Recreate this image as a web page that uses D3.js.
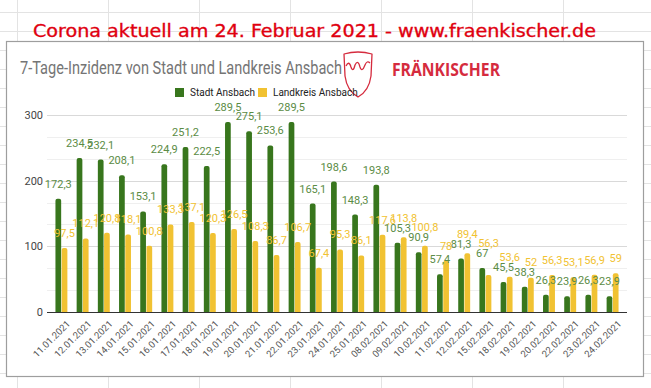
<!DOCTYPE html>
<html>
<head>
<meta charset="utf-8">
<script src="https://cdn.jsdelivr.net/npm/d3@7"></script>
<style>
  body { margin: 0; background: #fff; }
  svg { display: block; }
</style>
</head>
<body>
<div id="chart"></div>
<script>
// values as shown in the data labels
const dates = ["11.01.2021", "12.01.2021", "13.01.2021", "14.01.2021", "15.01.2021", "16.01.2021",
  "17.01.2021", "18.01.2021", "19.01.2021", "20.01.2021", "21.01.2021", "22.01.2021", "23.01.2021",
  "24.01.2021", "25.01.2021", "08.02.2021", "09.02.2021", "10.02.2021", "11.02.2021", "12.02.2021",
  "15.02.2021", "18.02.2021", "19.02.2021", "20.02.2021", "22.02.2021", "23.02.2021", "24.02.2021"];
const stadt = [172.3, 234.5, 232.1, 208.1, 153.1, 224.9, 251.2, 222.5, 289.5, 275.1, 253.6, 289.5, 165.1,
  198.6, 148.3, 193.8, 105.3, 90.9, 57.4, 81.3, 67, 45.5, 38.3, 26.3, 23.9, 26.3, 23.9];
const landkreis = [97.5, 112.1, 120.8, 118.1, 100.8, 133.3, 137.1, 120.3, 126.5, 108.3, 86.7, 106.7, 67.4,
  95.3, 86.1, 117.6, 113.8, 100.8, 78, 89.4, 56.3, 53.6, 52, 56.3, 53.1, 56.9, 59];
const seriesNames = ["Stadt Ansbach", "Landkreis Ansbach"];
const yTicks = [0, 100, 200, 300];

const W = 651, H = 388;
const colors = ["#38761d", "#f1c232"];
const labelColors = ["#5b8c45", "#f1c232"];

const svg = d3.select("#chart").append("svg").attr("width", W).attr("height", H);

// spreadsheet grid behind everything
const sheet = svg.append("g").attr("stroke", "#e3e3e3").attr("stroke-width", 1);
d3.range(12, H, 19).forEach(y => sheet.append("line").attr("x1", 0).attr("x2", W).attr("y1", y + 0.5).attr("y2", y + 0.5));
d3.range(17, W, 91).forEach(x => sheet.append("line").attr("x1", x + 0.5).attr("x2", x + 0.5).attr("y1", 0).attr("y2", H));

// big red headline
svg.append("text")
  .attr("x", 33).attr("y", 37)
  .attr("font-family", "DejaVu Sans Condensed, DejaVu Sans")
  .attr("font-size", 17)
  .attr("fill", "#e0000f")
  .attr("stroke", "#e0000f").attr("stroke-width", 0.3)
  .attr("textLength", 563).attr("lengthAdjust", "spacingAndGlyphs")
  .text("Corona aktuell am 24. Februar 2021 - www.fraenkischer.de");

// chart box
svg.append("rect")
  .attr("x", 6.5).attr("y", 41.5).attr("width", 637).attr("height", 335)
  .attr("fill", "#fff").attr("stroke", "#9e9e9e").attr("stroke-width", 1.2);

svg.append("text")
  .attr("x", 20).attr("y", 74)
  .attr("font-family", "Roboto, Arial, sans-serif")
  .attr("font-size", 17.5)
  .attr("fill", "#757575")
  .attr("textLength", 322).attr("lengthAdjust", "spacingAndGlyphs")
  .text("7-Tage-Inzidenz von Stadt und Landkreis Ansbach");

// logo
const logo = svg.append("g").attr("transform", "translate(343,50)")
  .attr("fill", "none").attr("stroke", "#d52b3e").attr("stroke-width", 1.3).attr("stroke-linejoin", "round");
logo.append("path").attr("d", "M1,4 Q15,0 29,4 L28,26 Q26,41 15,47 Q4,41 2,26 Z");
logo.append("path").attr("d", "M3,16 Q6,10 8,17 Q10,23 12,15 Q15,9 17,17 Q19,23 22,15 Q24,10 27,13");
svg.append("text")
  .attr("x", 392).attr("y", 76)
  .attr("font-family", "Open Sans, Roboto, sans-serif")
  .attr("font-weight", "bold")
  .attr("font-size", 18)
  .attr("fill", "#d52b3e")
  .attr("textLength", 108).attr("lengthAdjust", "spacingAndGlyphs")
  .text("FRÄNKISCHER");

// legend
const legendX = [175, 258];
seriesNames.forEach((name, i) => {
  svg.append("rect").attr("x", legendX[i]).attr("y", 88).attr("width", 9).attr("height", 9).attr("fill", colors[i]);
  svg.append("text")
    .attr("x", legendX[i] + 15).attr("y", 96)
    .attr("font-family", "Roboto, Arial, sans-serif").attr("font-size", 10).attr("fill", "#222")
    .text(name);
});

// scales
const x = d3.scaleBand().domain(dates).range([47, 627]).paddingInner(0.39).paddingOuter(0.375);
const xSub = d3.scaleBand().domain([0, 1]).range([0, x.bandwidth()]).padding(0.08);
const y = d3.scaleLinear().domain([0, 300]).range([312, 115]);

// gridlines: major every 100, two minor lines between
const minor = d3.range(0, 301, 100 / 3).filter(v => Math.abs(v % 100) > 1 && Math.abs(v % 100 - 100) > 1);
svg.append("g").selectAll("line").data(minor).join("line")
  .attr("x1", 47).attr("x2", 627)
  .attr("y1", d => Math.round(y(d)) + 0.5).attr("y2", d => Math.round(y(d)) + 0.5)
  .attr("stroke", "#efefef");
svg.append("g").selectAll("line").data(yTicks.slice(1)).join("line")
  .attr("x1", 47).attr("x2", 627)
  .attr("y1", d => Math.round(y(d)) + 0.5).attr("y2", d => Math.round(y(d)) + 0.5)
  .attr("stroke", "#d9d9d9");

svg.append("g").selectAll("text").data(yTicks).join("text")
  .attr("x", 43).attr("y", d => y(d)).attr("dy", "0.35em")
  .attr("text-anchor", "end")
  .attr("font-family", "Roboto, Arial, sans-serif").attr("font-size", 11).attr("fill", "#444")
  .text(d => d);

// bars with rounded tops
const series = [stadt, landkreis];
function barPath(x0, w, yTop, yBase) {
  const r = Math.min(2, w / 2, (yBase - yTop) / 2);
  return `M${x0},${yBase}V${yTop + r}Q${x0},${yTop} ${x0 + r},${yTop}H${x0 + w - r}Q${x0 + w},${yTop} ${x0 + w},${yTop + r}V${yBase}Z`;
}
const bars = svg.append("g");
series.forEach((vals, s) => {
  bars.selectAll(null).data(vals).join("path")
    .attr("d", (d, i) => barPath(x(dates[i]) + xSub(s), xSub.bandwidth(), y(d), y(0)))
    .attr("fill", colors[s]);
});

// zero line
svg.append("line").attr("x1", 47).attr("x2", 627).attr("y1", y(0) + 0.5).attr("y2", y(0) + 0.5)
  .attr("stroke", "#333").attr("stroke-width", 1.2);

// x labels
svg.append("g").selectAll("text").data(dates).join("text")
  .attr("transform", d => `translate(${x(d) + x.bandwidth() / 2 + 7},${y(0) + 10}) rotate(-45)`)
  .attr("text-anchor", "end").attr("dy", "0.35em")
  .attr("font-family", "Roboto, Arial, sans-serif").attr("font-size", 9.5).attr("fill", "#555")
  .text(d => d);

// data labels; a Landkreis label that hits the Stadt label of its day moves up
const fmt = v => String(v).replace(".", ",");
const lab = svg.append("g").attr("font-family", "Roboto, Arial, sans-serif").attr("font-size", 11);
const boxes = [];
series.forEach((vals, s) => {
  vals.forEach((v, i) => {
    const cx = x(dates[i]) + xSub(s) + xSub.bandwidth() / 2;
    let base = y(v) - 11;
    const t = lab.append("text").attr("x", cx).attr("text-anchor", "middle")
      .attr("fill", labelColors[s]).text(fmt(v));
    const w = t.node().getComputedTextLength();
    if (s === 1) {
      const g = boxes[i];
      if (Math.abs(g.cx - cx) < (g.w + w) / 2 && base > g.base - 9 && base - 9 < g.base) {
        base = g.base - 10;
      }
    } else {
      boxes[i] = { cx, w, base };
    }
    t.attr("y", base);
  });
});
</script>
</body>
</html>
